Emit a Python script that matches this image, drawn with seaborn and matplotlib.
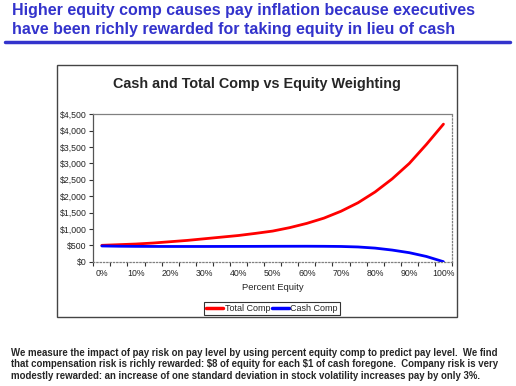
import numpy as np
import pandas as pd
import matplotlib
matplotlib.use('Agg')
import matplotlib.pyplot as plt
import seaborn as sns
from matplotlib.patches import Rectangle
from matplotlib.lines import Line2D
from matplotlib.ticker import FuncFormatter

# data (21 points, 0%..100% in 5% steps)
pct_equity = [0, 5, 10, 15, 20, 25, 30, 35, 40, 45, 50,
              55, 60, 65, 70, 75, 80, 85, 90, 95, 100]
total_comp = [500, 520, 540, 570, 610, 650, 700, 750, 800, 865, 935,
              1040, 1170, 1330, 1540, 1800, 2130, 2530, 3000, 3580, 4200]
cash_comp = [480, 472, 468, 466, 465, 465, 465, 466, 467, 468, 470,
             471, 472, 470, 465, 450, 415, 355, 275, 160, 0]
x_labels = ['0%', '10%', '20%', '30%', '40%', '50%',
            '60%', '70%', '80%', '90%', '100%']

W, H = 516, 386


def fx(px):
    return px / W


def fy(py):
    return 1 - py / H


sns.set_style('white')
plt.rcParams['font.family'] = ['Liberation Sans', 'DejaVu Sans']

df = pd.DataFrame({
    'idx': list(range(len(pct_equity))) * 2,
    'value': total_comp + cash_comp,
    'series': ['Total Comp'] * len(pct_equity) + ['Cash Comp'] * len(pct_equity),
})

fig = plt.figure(figsize=(W / 100, H / 100), dpi=100)
fig.patch.set_facecolor('white')

# slide heading
blue = '#3333cc'
fig.text(fx(12), fy(10.5), 'Higher equity comp causes pay inflation because executives',
         color=blue, fontsize=11.5, fontweight='bold', va='center', ha='left')
fig.text(fx(12), fy(29.5), 'have been richly rewarded for taking equity in lieu of cash',
         color=blue, fontsize=11.5, fontweight='bold', va='center', ha='left')
fig.add_artist(Line2D([fx(5), fx(510)], [fy(42), fy(42)], color=blue, lw=2.5))

# chart box
fig.add_artist(Rectangle((fx(57), fy(317)), fx(457) - fx(57), fy(65) - fy(317),
                         fill=False, edgecolor='#444444', lw=1))
fig.text(fx(257), fy(84), 'Cash and Total Comp vs Equity Weighting',
         fontsize=10.4, fontweight='bold', ha='center', va='center')

ax = fig.add_axes([fx(93.3), fy(261.7), fx(452) - fx(93.3), fy(114.3) - fy(261.7)])
sns.lineplot(data=df, x='idx', y='value', hue='series',
             palette={'Total Comp': '#ff0000', 'Cash Comp': '#0000ff'},
             linewidth=2, ax=ax, legend=False)

ax.set_xlim(-0.5, len(pct_equity) - 0.5)
ax.set_ylim(0, 4500)
ax.set_yticks(np.arange(0, 4501, 500))
ax.yaxis.set_major_formatter(FuncFormatter(lambda v, p: f'${v:,.0f}'))
ax.set_xticks(np.arange(0, len(pct_equity), 2))
ax.set_xticklabels(x_labels)
ax.set_xticks(np.arange(-0.5, len(pct_equity), 1), minor=True)
ax.tick_params(axis='x', which='major', length=0, labelsize=6.3, pad=5)
ax.tick_params(axis='x', which='minor', length=3, width=0.8, color='#333333',
               direction='out', bottom=True)
ax.tick_params(axis='y', length=3, width=0.8, color='#333333', direction='out',
               left=True, labelsize=6.3, pad=2)
ax.set_xlabel('Percent Equity', fontsize=6.8, labelpad=4)
ax.set_ylabel('')

for side in ['top', 'right', 'left', 'bottom']:
    ax.spines[side].set_visible(True)
    ax.spines[side].set_color('#808080')
    ax.spines[side].set_linewidth(0.9)
ax.spines['right'].set_linestyle(':')
ax.spines['bottom'].set_linestyle(':')
ax.spines['left'].set_color('#555555')

handles = [Line2D([], [], color='#ff0000', lw=2.5),
           Line2D([], [], color='#0000ff', lw=2.5)]
leg = fig.legend(handles, ['Total Comp', 'Cash Comp'], ncol=2,
                 loc='center', bbox_to_anchor=(fx(272), fy(308.5)),
                 fontsize=6.5, frameon=True, fancybox=False,
                 handlelength=1.9, handletextpad=0.15, columnspacing=0.2,
                 borderpad=0.25, borderaxespad=0)
leg.get_frame().set_edgecolor('black')
leg.get_frame().set_linewidth(0.8)

# footnote
note = ('We measure the impact of pay risk on pay level by using percent equity comp to predict pay level.  We find\n'
        'that compensation risk is richly rewarded: $8 of equity for each $1 of cash foregone.  Company risk is very\n'
        'modestly rewarded: an increase of one standard deviation in stock volatility increases pay by only 3%.')
fig.text(fx(11), fy(347.5), note, fontsize=6.9, fontweight='bold', ha='left', va='top',
         linespacing=1.2, parse_math=False)

fig.savefig('out.png', dpi=100)
